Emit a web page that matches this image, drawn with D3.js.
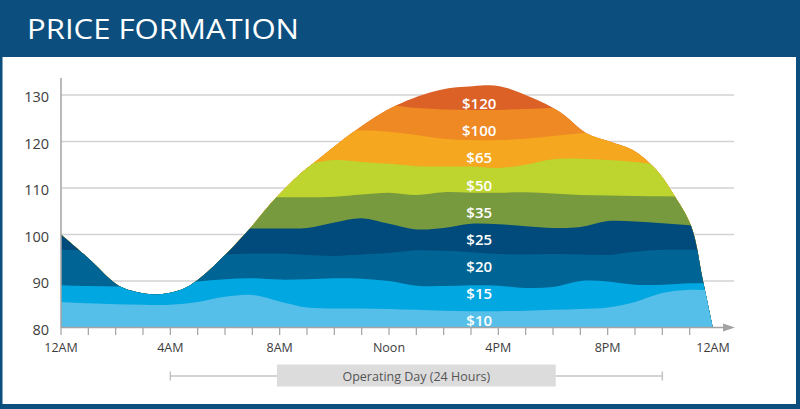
<!DOCTYPE html>
<html><head><meta charset="utf-8">
<script src="https://cdn.jsdelivr.net/npm/d3@7"></script>
<style>body{margin:0;background:#fff}svg{display:block}</style>
</head><body><svg id="c" width="800" height="409"></svg>
<script>
// ---------- data ----------
const hours = d3.range(0, 25);
const envelopeHours  = [0, 1, 2, 2.4, 2.8, 3.5, 4.4, 5, 6, 6.91, 7.46, 7.88, 8.7, 9.16, 10.8, 12.27, 13.86, 15.06, 16.05, 17.15, 18.24, 19.22, 20.07, 20.9, 21.78, 22.38, 23.06, 23.48, 23.84];
const envelopeValues = [100, 94.9, 89.4, 88.2, 87.6, 87.1, 88.1, 90.2, 95.6, 101.3, 105.2, 108, 112.8, 115, 122.5, 127.8, 131.1, 131.9, 131.9, 129.6, 126.4, 121.8, 120, 118.2, 113.9, 108.9, 101.7, 90.2, 80.2];

const top10  = [85.5,85.2,85.0,84.9,84.9,85.5,86.6,87.0,85.6,84.3,84.1,84.1,84.0,83.8,83.6,83.5,83.5,83.6,83.8,84.0,84.3,85.5,87.4,88.1,87.9];
const top15  = [89.1,88.9,88.8,88.7,88.9,89.9,90.4,90.6,90.3,90.4,90.6,90.5,90.0,89.0,88.9,89.1,89.0,88.5,88.7,90.0,89.9,89.2,89.2,89.5,89.6];
const top20  = [96.7,96.5,96.3,96.0,95.8,95.6,95.7,95.9,95.9,95.6,95.4,95.7,96.0,96.6,96.5,96.2,95.8,95.7,95.8,95.7,95.6,96.3,96.7,96.7,96.7];
const top25  = [101.3,101.3,101.3,101.3,101.3,101.3,101.3,101.3,101.3,101.4,102.6,103.5,102.3,101.1,101.4,102.3,102.2,101.8,101.4,101.6,102.9,102.8,102.4,102.0,102.0];
const top35  = [108,108,108,108,108,108,108,108,108,108,108.1,108.6,109.0,108.5,109.1,109.0,109.0,109.1,108.8,108.5,108.4,108.3,108.2,108.1,108];
const top50  = [115,115,115,115,115,115,115,115,115,115.2,116.0,115.6,115.2,114.7,114.6,114.6,114.3,115.0,116.2,116.3,116.0,115.6,115.0,115,115];
const top65  = [122.5,122.5,122.5,122.5,122.5,122.5,122.5,122.5,122.5,122.5,122.5,122.4,122.1,121.4,120.6,120.3,120.3,120.6,121.2,121.8,122,122,122,122,122];
const top100 = [127.8,127.8,127.8,127.8,127.8,127.8,127.8,127.8,127.8,127.8,127.8,127.8,127.8,127.2,126.9,126.8,126.8,127.0,127.2,127.3,127.3,127.3,127.3,127.3,127.3];
const top120 = [140,140,140,140,140,140,140,140,140,140,140,140,140,140,140,140,140,140,140,140,140,140,140,140,140];

const bandTops    = [top10, top15, top20, top25, top35, top50, top65, top100, top120];
const priceLabels = ["$10", "$15", "$20", "$25", "$35", "$50", "$65", "$100", "$120"];
const labelLevels = [81.6, 87.4, 93.2, 99.1, 104.9, 110.7, 116.6, 122.4, 128.3];
const labelHour   = 15.3;
const bandColors  = ["#56bfe9", "#00a7e1", "#006595", "#004b7b", "#789a3e", "#bed52f", "#f4a71f", "#ee8924", "#db6127"];

const yTicks       = [80, 90, 100, 110, 120, 130];
const xTickHours   = [0, 4, 8, 12, 16, 20, 24];
const xTickLabels  = ["12AM", "4AM", "8AM", "Noon", "4PM", "8PM", "12AM"];
const minorTicks   = d3.range(0, 24);
const operatingSpan = [4, 22];
const operatingBox  = [7.9, 18.1];
const operatingText = "Operating Day (24 Hours)";
const titleText = "PRICE FORMATION";

// ---------- drawing ----------
const svg = d3.select("#c");
const x = d3.scaleLinear().domain([0, 24]).range([61, 717]);
const y = d3.scaleLinear().domain([80, 130]).range([327.5, 95]);
const font = "'Open Sans', 'DejaVu Sans', sans-serif";
const navy = "#0c4f7e";

// frame
svg.append("rect").attr("width", 800).attr("height", 409).attr("fill", "#fff");
svg.append("rect").attr("x", 0).attr("y", 0).attr("width", 800).attr("height", 57).attr("fill", navy);
svg.append("rect").attr("x", 0).attr("y", 0).attr("width", 2.5).attr("height", 409).attr("fill", navy);
svg.append("rect").attr("x", 796).attr("y", 0).attr("width", 4).attr("height", 409).attr("fill", navy);
svg.append("rect").attr("x", 0).attr("y", 404).attr("width", 800).attr("height", 5).attr("fill", navy);

svg.append("text").text(titleText)
  .attr("x", 27).attr("y", 38.5)
  .attr("fill", "#fff").attr("font-family", font).attr("font-size", 28).attr("font-weight", 500)
  .attr("textLength", 272).attr("lengthAdjust", "spacingAndGlyphs");

// gridlines
svg.append("g").selectAll("line").data(yTicks.filter(d => d > 80)).join("line")
  .attr("x1", x(0)).attr("x2", 734)
  .attr("y1", d => y(d)).attr("y2", d => y(d))
  .attr("stroke", "#d2d2d2").attr("stroke-width", 1.5);

// clip by envelope
const envArea = d3.area()
  .x((d, i) => x(envelopeHours[i]))
  .y0(y(80)).y1(d => y(d))
  .curve(d3.curveCatmullRom.alpha(0.5));
svg.append("clipPath").attr("id", "env").append("path").attr("d", envArea(envelopeValues));

const bandArea = d3.area()
  .x((d, i) => x(hours[i]))
  .y0(y(80)).y1(d => y(d))
  .curve(d3.curveCatmullRom.alpha(0.5));

const bandsG = svg.append("g").attr("clip-path", "url(#env)");
for (let i = bandTops.length - 1; i >= 0; i--) {
  bandsG.append("path").attr("d", bandArea(bandTops[i])).attr("fill", bandColors[i]);
}

// band labels
svg.append("g").selectAll("text").data(priceLabels).join("text")
  .text(d => d)
  .attr("x", x(labelHour)).attr("y", (d, i) => y(labelLevels[i]))
  .attr("text-anchor", "middle").attr("dominant-baseline", "central")
  .attr("fill", "#fff").attr("font-family", font).attr("font-weight", 600).attr("font-size", 15);

// axes
const axisColor = "#a3a3a3";
svg.append("line").attr("x1", x(0)).attr("x2", x(0)).attr("y1", 78).attr("y2", y(80))
  .attr("stroke", axisColor).attr("stroke-width", 1.5);
svg.append("line").attr("x1", x(0)).attr("x2", 730).attr("y1", y(80)).attr("y2", y(80))
  .attr("stroke", axisColor).attr("stroke-width", 1.5);
svg.append("path").attr("d", `M723,${y(80) - 4}L735,${y(80)}L723,${y(80) + 4}Z`).attr("fill", axisColor);
svg.append("g").selectAll("line").data(minorTicks).join("line")
  .attr("x1", d => x(d)).attr("x2", d => x(d))
  .attr("y1", y(80)).attr("y2", y(80) + 7.5)
  .attr("stroke", axisColor).attr("stroke-width", 1.2);

svg.append("g").selectAll("text").data(yTicks).join("text")
  .text(d => d)
  .attr("x", 49).attr("y", d => y(d) + 1.5)
  .attr("text-anchor", "end").attr("dominant-baseline", "central")
  .attr("fill", "#3d3d3d").attr("font-family", font).attr("font-size", 14.5);

svg.append("g").selectAll("text").data(xTickLabels).join("text")
  .text(d => d)
  .attr("x", (d, i) => x(xTickHours[i]) - (i === 6 ? 4 : 0)).attr("y", 347.5)
  .attr("text-anchor", "middle").attr("dominant-baseline", "central")
  .attr("fill", "#3d3d3d").attr("font-family", font).attr("font-size", 12.5);

// operating day
const oy = 376;
svg.append("line").attr("x1", x(operatingSpan[0])).attr("x2", x(operatingSpan[1]))
  .attr("y1", oy).attr("y2", oy).attr("stroke", "#c4c4c4").attr("stroke-width", 1.5);
operatingSpan.forEach(h => svg.append("line").attr("x1", x(h)).attr("x2", x(h))
  .attr("y1", oy - 4.5).attr("y2", oy + 4.5).attr("stroke", "#c4c4c4").attr("stroke-width", 1.5));
svg.append("rect").attr("x", x(operatingBox[0])).attr("width", x(operatingBox[1]) - x(operatingBox[0]))
  .attr("y", 364.5).attr("height", 22).attr("fill", "#dcdcdc");
svg.append("text").text(operatingText)
  .attr("x", (x(operatingBox[0]) + x(operatingBox[1])) / 2).attr("y", oy)
  .attr("text-anchor", "middle").attr("dominant-baseline", "central")
  .attr("fill", "#555").attr("font-family", font).attr("font-size", 12.5);
</script></body></html>
